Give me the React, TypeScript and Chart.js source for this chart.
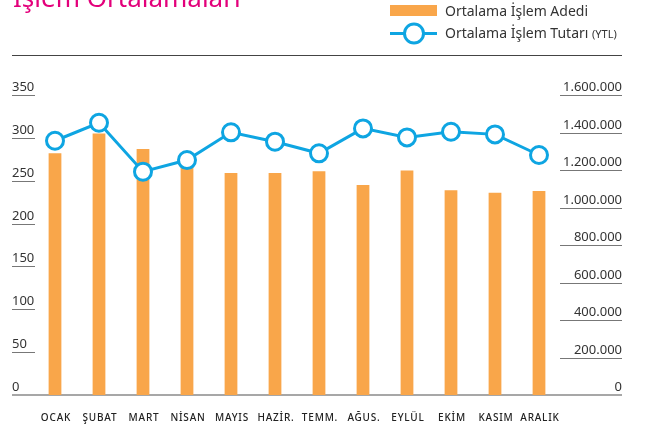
import { useEffect, useRef } from "react";
import { Chart, registerables } from "chart.js";

Chart.register(...registerables);

const months = ["OCAK", "ŞUBAT", "MART", "NİSAN", "MAYIS", "HAZİR.", "TEMM.", "AĞUS.", "EYLÜL", "EKİM", "KASIM", "ARALIK"];
const islemAdedi = [282, 305, 287, 268, 259, 259, 261, 245, 262, 239, 236, 238];
const islemTutari = [1356000, 1452000, 1191000, 1253000, 1401000, 1351000, 1289000, 1422000, 1374000, 1404000, 1390000, 1280000];
const leftTicks = [0, 50, 100, 150, 200, 250, 300, 350];
const rightTicks = [0, 200000, 400000, 600000, 800000, 1000000, 1200000, 1400000, 1600000];
const rightTickLabels = ["0", "200.000", "400.000", "600.000", "800.000", "1.000.000", "1.200.000", "1.400.000", "1.600.000"];
const titleText = "İşlem Ortalamaları";
const legendBar = "Ortalama İşlem Adedi";
const legendLine = "Ortalama İşlem Tutarı";
const legendUnit = "(YTL)";

const ORANGE = "#f9a64a";
const BLUE = "#0ea5e2";
const MAGENTA = "#e3007b";
const FONT = "'Noto Sans', 'Open Sans', sans-serif";

const decorPlugin = {
  id: "decor",
  beforeDatasetsDraw(chart: any) {
    const ctx = chart.ctx;
    const y = chart.scales.y;
    const y1 = chart.scales.y1;
    const L = 12;
    const R = 622;
    ctx.save();
    // baseline
    ctx.strokeStyle = "#8a8a8a";
    ctx.lineWidth = 1.5;
    ctx.beginPath();
    ctx.moveTo(L, y.getPixelForValue(0));
    ctx.lineTo(R, y.getPixelForValue(0));
    ctx.stroke();
    // left ticks
    ctx.font = `13px ${FONT}`;
    ctx.fillStyle = "#333";
    ctx.textBaseline = "alphabetic";
    ctx.lineWidth = 1;
    ctx.strokeStyle = "#777";
    leftTicks.forEach((v) => {
      const py = Math.round(y.getPixelForValue(v)) + 0.5;
      ctx.textAlign = "left";
      ctx.fillText(String(v), L, py - 5);
      if (v !== 0) {
        ctx.beginPath();
        ctx.moveTo(L, py);
        ctx.lineTo(35, py);
        ctx.stroke();
      }
    });
    rightTicks.forEach((v, i) => {
      const py = Math.round(y1.getPixelForValue(v)) + 0.5;
      ctx.textAlign = "right";
      ctx.fillText(rightTickLabels[i], R, py - 5);
      if (v !== 0) {
        ctx.beginPath();
        ctx.moveTo(560, py);
        ctx.lineTo(R, py);
        ctx.stroke();
      }
    });
    ctx.restore();
  },
  afterDraw(chart: any) {
    const ctx = chart.ctx;
    const x = chart.scales.x;
    ctx.save();
    // title
    ctx.font = `26px ${FONT}`;
    ctx.fillStyle = MAGENTA;
    ctx.textAlign = "left";
    ctx.textBaseline = "alphabetic";
    ctx.fillText(titleText, 13, 7);
    // x labels
    ctx.font = `500 10px ${FONT}`;
    (ctx as any).letterSpacing = "0.8px";
    ctx.fillStyle = "#222";
    ctx.textAlign = "center";
    ctx.textBaseline = "middle";
    months.forEach((m, i) => {
      ctx.fillText(m, x.getPixelForValue(i) + 1, 418);
    });
    (ctx as any).letterSpacing = "0px";
    // legend
    ctx.fillStyle = ORANGE;
    ctx.fillRect(390, 5, 47, 11);
    ctx.strokeStyle = BLUE;
    ctx.lineWidth = 3;
    ctx.beginPath();
    ctx.moveTo(390, 33.5);
    ctx.lineTo(437, 33.5);
    ctx.stroke();
    ctx.beginPath();
    ctx.arc(414, 33.5, 9.5, 0, Math.PI * 2);
    ctx.fillStyle = "#fff";
    ctx.fill();
    ctx.stroke();
    ctx.fillStyle = "#333";
    ctx.textAlign = "left";
    ctx.textBaseline = "middle";
    ctx.font = `14px ${FONT}`;
    ctx.fillText(legendBar, 445, 12);
    ctx.fillText(legendLine, 445, 34);
    const w = ctx.measureText(legendLine + " ").width;
    ctx.font = `11px ${FONT}`;
    ctx.fillText(legendUnit, 445 + w, 35);
    // rule under legend
    ctx.strokeStyle = "#444";
    ctx.lineWidth = 1;
    ctx.beginPath();
    ctx.moveTo(12, 55.5);
    ctx.lineTo(622, 55.5);
    ctx.stroke();
    ctx.restore();
  },
};

export default function App() {
  const ref = useRef<HTMLCanvasElement>(null);
  useEffect(() => {
    if (!ref.current) return;
    const chart = new Chart(ref.current, {
      type: "bar",
      data: {
        labels: months,
        datasets: [
          {
            type: "line",
            label: legendLine,
            data: islemTutari,
            yAxisID: "y1",
            borderColor: BLUE,
            borderWidth: 3,
            pointRadius: 8.5,
            pointBorderWidth: 3,
            pointBackgroundColor: "#fff",
            pointBorderColor: BLUE,
            tension: 0,
            order: 0,
            clip: false,
          } as any,
          {
            type: "bar",
            label: legendBar,
            data: islemAdedi,
            yAxisID: "y",
            backgroundColor: ORANGE,
            barPercentage: 0.29,
            categoryPercentage: 1,
            order: 1,
          },
        ],
      },
      options: {
        responsive: false,
        animation: false,
        layout: { padding: { left: 33, right: 85, top: 95, bottom: 38 } },
        plugins: { legend: { display: false }, tooltip: { enabled: false }, title: { display: false } },
        scales: {
          x: { display: false, offset: true },
          y: { display: false, min: 0, max: 350 },
          y1: { display: false, min: 0, max: 1600000, position: "right" },
        },
      },
      plugins: [decorPlugin],
    });
    return () => chart.destroy();
  }, []);
  return (
    <div style={{ position: "fixed", left: 0, top: 0, width: 646, height: 433, background: "#fff" }}>
      <canvas ref={ref} width={646} height={433} style={{ display: "block" }} />
    </div>
  );
}
